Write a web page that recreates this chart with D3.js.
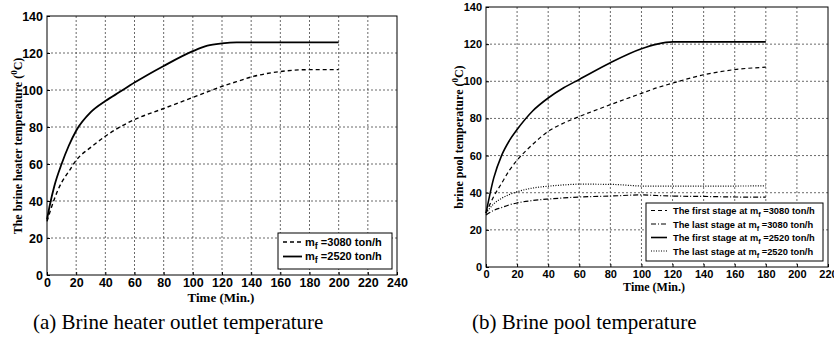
<!DOCTYPE html>
<html>
<head>
<meta charset="utf-8">
<script src="https://cdn.jsdelivr.net/npm/d3@7"></script>
<style>
  body { margin: 0; background: #fff; }
  svg { display: block; }
</style>
</head>
<body>
<div id="chart"></div>
<script>
// (a) brine heater outlet temperature
const timeA = [0, 2, 5, 10, 15, 20, 30, 40, 50, 60, 80, 100, 110, 120, 130, 140, 160, 180, 200];
const heater3080 = [29, 34, 41, 50, 56, 62, 69, 75, 80, 84, 90, 96, 99, 102, 104.5, 107, 110, 111, 111];
const heater2520 = [30, 38, 48, 60, 70, 78, 88, 94, 99, 104, 113, 121, 124, 125.2, 125.7, 125.7, 125.7, 125.7, 125.7];

// (b) brine pool temperature
const timeB = [0, 5, 10, 15, 20, 30, 40, 50, 60, 80, 100, 110, 120, 140, 160, 180];
const poolFirst3080 = [29, 38, 45, 52, 57.5, 66, 73, 77.5, 81, 87.4, 93.5, 96.5, 99, 103.5, 106.3, 107.6];
const poolLast3080 = [28, 30.5, 32, 33.5, 34.5, 35.8, 36.6, 37.2, 37.7, 38.2, 38.8, 38.5, 38.2, 38, 37.7, 37.6];
const poolFirst2520 = [29, 48, 60, 68, 74, 84, 91, 96.5, 101, 110, 117.5, 120, 121.2, 121.2, 121.2, 121.2];
const poolLast2520 = [29, 34, 37, 39, 40.5, 42.5, 43.5, 44.2, 44.6, 44.5, 43.6, 43.5, 43.5, 43.6, 43.6, 43.7];

const yTicks = [0, 20, 40, 60, 80, 100, 120, 140];
const xTicksA = d3.range(0, 241, 20);
const xTicksB = d3.range(0, 221, 20);

const width = 834, height = 340;
const svg = d3.select("#chart").append("svg")
  .attr("width", width)
  .attr("height", height);

const tickFont = "'Liberation Sans Narrow', 'Arial Narrow', 'Liberation Sans', sans-serif";
const serif = "'Liberation Serif', 'Times New Roman', serif";

// draws one panel
function panel(opt) {
  const x = d3.scaleLinear().domain([0, opt.xMax]).range([opt.left, opt.right]);
  const y = d3.scaleLinear().domain([0, 140]).range([opt.bottom, opt.top]);
  const g = svg.append("g");

  // grid
  g.append("g").selectAll("line")
    .data(opt.xTicks.slice(1, -1))
    .join("line")
    .attr("x1", d => x(d)).attr("x2", d => x(d))
    .attr("y1", opt.top).attr("y2", opt.bottom)
    .attr("stroke", "#444").attr("stroke-width", 0.8)
    .attr("stroke-dasharray", "2,2");
  g.append("g").selectAll("line")
    .data(yTicks.slice(1, -1))
    .join("line")
    .attr("x1", opt.left).attr("x2", opt.right)
    .attr("y1", d => y(d)).attr("y2", d => y(d))
    .attr("stroke", "#444").attr("stroke-width", 0.8)
    .attr("stroke-dasharray", "2,2");

  // axes
  const xAxis = g.append("g")
    .attr("transform", `translate(0,${opt.bottom})`)
    .call(d3.axisBottom(x).tickValues(opt.xTicks).tickSize(-3).tickPadding(3));
  const yAxis = g.append("g")
    .attr("transform", `translate(${opt.left},0)`)
    .call(d3.axisLeft(y).tickValues(yTicks).tickSize(-3).tickPadding(4));
  [xAxis, yAxis].forEach(a => {
    a.select(".domain").remove();
    a.selectAll("line").attr("stroke", "#000");
    a.selectAll("text")
      .attr("font-family", tickFont)
      .attr("font-weight", "bold")
      .attr("font-size", opt.tickSize)
      .attr("fill", "#000");
  });

  // frame
  g.append("rect")
    .attr("x", opt.left).attr("y", opt.top)
    .attr("width", opt.right - opt.left).attr("height", opt.bottom - opt.top)
    .attr("fill", "none").attr("stroke", "#000").attr("stroke-width", 1);

  // lines
  opt.series.forEach(s => {
    const line = d3.line()
      .x((d, i) => x(opt.time[i]))
      .y(d => y(d))
      .curve(d3.curveMonotoneX);
    g.append("path")
      .datum(s.values)
      .attr("fill", "none")
      .attr("stroke", "#000")
      .attr("stroke-width", s.width)
      .attr("stroke-dasharray", s.dash)
      .attr("d", line);
  });

  // axis titles
  g.append("text")
    .attr("x", opt.xTitle[0]).attr("y", opt.xTitle[1])
    .attr("text-anchor", "middle")
    .attr("font-family", serif).attr("font-weight", "bold")
    .attr("font-size", opt.titleSize)
    .text("Time (Min.)");

  const yt = g.append("text")
    .attr("transform", `translate(${opt.yTitle[0]},${opt.yTitle[1]}) rotate(-90)`)
    .attr("text-anchor", "middle")
    .attr("font-family", serif).attr("font-weight", "bold")
    .attr("font-size", opt.yTitleSize);
  yt.append("tspan").text(opt.yLabel + " (");
  yt.append("tspan").attr("dy", -5).attr("font-size", opt.yTitleSize - 3).text("0");
  yt.append("tspan").attr("dy", 5).text("C)");

  // legend
  const L = opt.legend;
  const leg = g.append("g");
  leg.append("rect")
    .attr("x", L.x).attr("y", L.y).attr("width", L.w).attr("height", L.h)
    .attr("fill", "#fff").attr("stroke", "#000").attr("stroke-width", 1);
  opt.series.forEach((s, i) => {
    const cy = L.y + L.first + i * L.step;
    leg.append("line")
      .attr("x1", L.x + L.lx0).attr("x2", L.x + L.lx1)
      .attr("y1", cy).attr("y2", cy)
      .attr("stroke", "#000").attr("stroke-width", s.width)
      .attr("stroke-dasharray", s.dash);
    const t = leg.append("text")
      .attr("x", L.x + L.tx).attr("y", cy + 3.5)
      .attr("font-family", tickFont).attr("font-weight", "bold")
      .attr("font-size", L.font);
    t.append("tspan").text(s.prefix + "m");
    t.append("tspan").attr("dy", 3).attr("font-size", L.font - 2).text("f");
    t.append("tspan").attr("dy", -3).text(" =" + s.flow + " ton/h");
  });

  // caption
  svg.append("text")
    .attr("x", opt.caption[0]).attr("y", opt.caption[1])
    .attr("font-family", serif).attr("font-size", 21)
    .text(opt.captionText);
}

panel({
  left: 47, right: 397, top: 16, bottom: 275, xMax: 240,
  xTicks: xTicksA, time: timeA, tickSize: 12.5, titleSize: 13, yTitleSize: 12,
  xTitle: [221, 302], yTitle: [22, 146],
  yLabel: "The brine heater temperature",
  series: [
    { values: heater3080, dash: "4,3", width: 1.4, prefix: "", flow: "3080" },
    { values: heater2520, dash: null, width: 1.8, prefix: "", flow: "2520" }
  ],
  legend: { x: 278, y: 233, w: 114, h: 36, first: 9, step: 14.5, lx0: 5, lx1: 24, tx: 27, font: 11 },
  caption: [33, 329], captionText: "(a) Brine heater outlet temperature"
});

panel({
  left: 486, right: 828, top: 7, bottom: 267, xMax: 220,
  xTicks: xTicksB, time: timeB, tickSize: 11, titleSize: 12, yTitleSize: 12,
  xTitle: [654, 291], yTitle: [463, 137],
  yLabel: "brine pool temperature",
  series: [
    { values: poolFirst3080, dash: "4,3", width: 1.2, prefix: "The first stage at ", flow: "3080" },
    { values: poolLast3080, dash: "5,2,1,2", width: 1.2, prefix: "The last stage at ", flow: "3080" },
    { values: poolFirst2520, dash: null, width: 1.6, prefix: "The first stage at ", flow: "2520" },
    { values: poolLast2520, dash: "1,1.5", width: 1.2, prefix: "The last stage at ", flow: "2520" }
  ],
  legend: { x: 646, y: 203, w: 177, h: 58, first: 7.5, step: 13.5, lx0: 5, lx1: 21, tx: 27, font: 9.3 },
  caption: [472, 329], captionText: "(b) Brine pool temperature"
});
</script>
</body>
</html>
